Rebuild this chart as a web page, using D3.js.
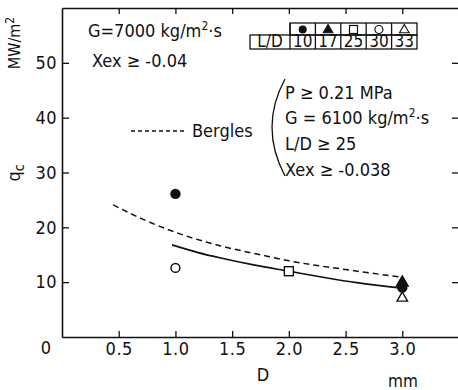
<!DOCTYPE html>
<html>
<head>
<meta charset="utf-8">
<script src="https://cdn.jsdelivr.net/npm/d3@7"></script>
<style>
  body { margin: 0; background: #fff; }
  svg text { font-family: "DejaVu Sans Condensed", "DejaVu Sans", sans-serif; font-stretch: condensed; fill: #111; }
</style>
</head>
<body>
<svg id="chart" width="458" height="390"></svg>
<script>
// tick labels
var xTicks = [0.5, 1.0, 1.5, 2.0, 2.5, 3.0];
var yTicks = [10, 20, 30, 40, 50];

// measured points: D (mm), qc (MW/m2), L/D
var pointD  = [1.0, 3.0, 3.0, 2.0, 1.0, 3.0];
var pointQc = [26.1, 9.0, 9.9, 12.0, 12.6, 7.1];
var pointLD = [10, 10, 17, 25, 30, 33];

// legend table
var tableLD = [10, 17, 25, 30, 33];
var tableSym = ["dot", "tri", "square", "circle", "triangle"];

// solid curve
var solidD  = [0.97, 1.2, 1.4, 1.7, 2.0, 2.3, 2.6, 3.0];
var solidQc = [16.8, 15.4, 14.4, 13.1, 12.0, 10.9, 9.9, 8.9];

// Bergles (dashed)
var dashD  = [0.45, 0.7, 1.0, 1.4, 1.75, 2.0, 2.5, 3.0];
var dashQc = [24.1, 21.6, 19.1, 16.6, 15.0, 13.9, 12.3, 10.9];

var svg = d3.select("#chart");

var x = d3.scaleLinear().domain([0, 3.5]).range([62, 459]);
var y = d3.scaleLinear().domain([0, 60]).range([337, 8]);

var symOf = { 10: "dot", 17: "tri", 25: "square", 30: "circle", 33: "triangle" };

// axes
svg.append("g").attr("transform", "translate(0," + y(0) + ")")
    .call(d3.axisBottom(x).tickValues(xTicks).tickFormat(d3.format(".1f"))
      .tickSizeInner(-6).tickSizeOuter(0).tickPadding(5));
svg.append("g").attr("transform", "translate(0," + y(60) + ")")
    .call(d3.axisTop(x).tickValues(xTicks).tickFormat("")
      .tickSizeInner(-6).tickSizeOuter(0));
svg.append("g").attr("transform", "translate(" + x(0) + ",0)")
    .call(d3.axisLeft(y).tickValues(yTicks)
      .tickSizeInner(-7).tickSizeOuter(0).tickPadding(5));
svg.append("g").attr("transform", "translate(" + x(3.5) + ",0)")
    .call(d3.axisRight(y).tickValues(yTicks).tickFormat("")
      .tickSizeInner(-7).tickSizeOuter(0));

svg.selectAll(".domain").attr("stroke", "#111").attr("stroke-width", 1.6);
svg.selectAll(".tick line").attr("stroke", "#111").attr("stroke-width", 1.3);
svg.selectAll(".tick text").attr("font-size", 18).attr("fill", "#111")
    .attr("letter-spacing", 0.5).style("font-family", null);

// origin label and axis titles
svg.append("text").attr("x", 46).attr("y", 354).attr("text-anchor", "middle")
    .attr("font-size", 18).text("0");
svg.append("text").attr("x", 263).attr("y", 381).attr("text-anchor", "middle")
    .attr("font-size", 18).text("D");
svg.append("text").attr("x", 403).attr("y", 387).attr("text-anchor", "middle")
    .attr("font-size", 17).text("mm");

var qc = svg.append("text").attr("transform", "translate(20,173) rotate(-90)")
    .attr("text-anchor", "middle").attr("font-size", 18);
qc.append("tspan").text("q");
qc.append("tspan").attr("font-size", 14).attr("dy", 4).text("c");

var unit = svg.append("text").attr("transform", "translate(20,43) rotate(-90)")
    .attr("text-anchor", "middle").attr("font-size", 16);
unit.append("tspan").text("MW/m");
unit.append("tspan").attr("font-size", 12).attr("dy", -6).text("2");

// top-left annotation
var g1 = svg.append("text").attr("x", 88).attr("y", 37).attr("font-size", 18);
g1.append("tspan").text("G=7000 kg/m");
g1.append("tspan").attr("font-size", 12).attr("dy", -7).text("2");
g1.append("tspan").attr("dy", 7).text("·s");
svg.append("text").attr("x", 92).attr("y", 67).attr("font-size", 18).text("Xex ≥ -0.04");

// curves
var line = d3.line()
    .x(function(d) { return x(d[0]); })
    .y(function(d) { return y(d[1]); })
    .curve(d3.curveMonotoneX);

svg.append("path").datum(dashD.map(function(d, i) { return [d, dashQc[i]]; }))
    .attr("d", line).attr("fill", "none").attr("stroke", "#111")
    .attr("stroke-width", 1.5).attr("stroke-dasharray", "6,4");
svg.append("path").datum(solidD.map(function(d, i) { return [d, solidQc[i]]; }))
    .attr("d", line).attr("fill", "none").attr("stroke", "#111")
    .attr("stroke-width", 1.7);

// marker drawing
function marker(g, kind, cx, cy) {
  if (kind === "dot") {
    g.append("circle").attr("cx", cx).attr("cy", cy).attr("r", 5.2).attr("fill", "#111");
  } else if (kind === "circle") {
    g.append("circle").attr("cx", cx).attr("cy", cy).attr("r", 4.4)
      .attr("fill", "#fff").attr("stroke", "#111").attr("stroke-width", 1.5);
  } else if (kind === "square") {
    g.append("rect").attr("x", cx - 4.5).attr("y", cy - 4.5).attr("width", 9).attr("height", 9)
      .attr("fill", "#fff").attr("stroke", "#111").attr("stroke-width", 1.4);
  } else {
    var tri = d3.symbol().type(d3.symbolTriangle).size(kind === "tri" ? 60 : 48);
    g.append("path").attr("d", tri).attr("transform", "translate(" + cx + "," + cy + ")")
      .attr("fill", kind === "tri" ? "#111" : "#fff")
      .attr("stroke", "#111").attr("stroke-width", 1.4);
  }
}

var pts = svg.append("g");
pointD.forEach(function(d, i) {
  marker(pts, symOf[pointLD[i]], x(d), y(pointQc[i]));
});

// Bergles legend
svg.append("line").attr("x1", 131).attr("x2", 184).attr("y1", 131).attr("y2", 131)
    .attr("stroke", "#111").attr("stroke-width", 1.4).attr("stroke-dasharray", "4,3");
svg.append("text").attr("x", 192).attr("y", 137).attr("font-size", 18).text("Bergles");
svg.append("path").attr("d", "M285,79 Q259,127 285,176")
    .attr("fill", "none").attr("stroke", "#111").attr("stroke-width", 1.3);

var bx = 285;
svg.append("text").attr("x", bx).attr("y", 99).attr("font-size", 18).text("P ≥ 0.21 MPa");
var g2 = svg.append("text").attr("x", bx).attr("y", 124).attr("font-size", 18);
g2.append("tspan").text("G = 6100 kg/m");
g2.append("tspan").attr("font-size", 12).attr("dy", -7).text("2");
g2.append("tspan").attr("dy", 7).text("·s");
svg.append("text").attr("x", bx).attr("y", 150).attr("font-size", 18).text("L/D ≥ 25");
svg.append("text").attr("x", bx).attr("y", 176).attr("font-size", 18).text("Xex ≥ -0.038");

// L/D table
var tx0 = 250, tLabelW = 40, cellW = 25.4, rowTop = 23, rowMid = 35, rowBot = 49;
var tbl = svg.append("g").attr("fill", "none").attr("stroke", "#111").attr("stroke-width", 1.3);
tbl.append("rect").attr("x", tx0).attr("y", rowMid).attr("width", tLabelW + cellW * tableLD.length)
    .attr("height", rowBot - rowMid);
tbl.append("rect").attr("x", tx0 + tLabelW).attr("y", rowTop).attr("width", cellW * tableLD.length)
    .attr("height", rowMid - rowTop);
tableLD.forEach(function(v, i) {
  var cx0 = tx0 + tLabelW + cellW * i;
  var cy = (rowTop + rowMid) / 2 + 0.5;
  tbl.append("line").attr("x1", cx0).attr("x2", cx0).attr("y1", rowTop).attr("y2", rowBot);
  svg.append("text").attr("x", cx0 + cellW / 2).attr("y", rowBot - 2)
    .attr("text-anchor", "middle").attr("font-size", 17).text(v);
  var s = tableSym[i];
  if (s === "dot") {
    svg.append("circle").attr("cx", cx0 + cellW / 2).attr("cy", cy).attr("r", 4).attr("fill", "#111");
  } else if (s === "circle") {
    svg.append("circle").attr("cx", cx0 + cellW / 2).attr("cy", cy).attr("r", 4)
      .attr("fill", "none").attr("stroke", "#111").attr("stroke-width", 1.2);
  } else if (s === "square") {
    svg.append("rect").attr("x", cx0 + cellW / 2 - 4).attr("y", cy - 4)
      .attr("width", 8).attr("height", 8).attr("fill", "none").attr("stroke", "#111").attr("stroke-width", 1.2);
  } else {
    svg.append("path").attr("d", d3.symbol().type(d3.symbolTriangle).size(40))
      .attr("transform", "translate(" + (cx0 + cellW / 2) + "," + (cy + 0.5) + ")")
      .attr("fill", s === "tri" ? "#111" : "none").attr("stroke", "#111").attr("stroke-width", 1.1);
  }
});
svg.append("text").attr("x", tx0 + tLabelW / 2).attr("y", rowBot - 2)
    .attr("text-anchor", "middle").attr("font-size", 17).text("L/D");
</script>
</body>
</html>
